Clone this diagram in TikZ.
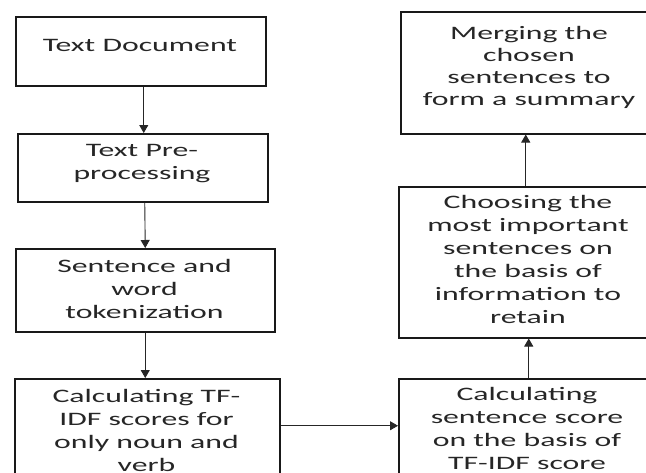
\documentclass[tikz,border=0pt]{standalone}
\usepackage{fontspec}
\setmainfont[FakeStretch=1.67]{Carlito}
\usetikzlibrary{arrows.meta}
\begin{document}
\begin{tikzpicture}[x=1pt,y=-1pt,
  box/.style={draw=black!90, line width=1.5pt, rectangle, inner sep=0pt, anchor=north west},
  txt/.style={anchor=north, inner sep=0pt, align=center, text=black!85, font=\fontsize{19}{23}\selectfont},
  arr/.style={draw=black!85, line width=0.9pt, -{Triangle[length=8pt,width=9pt]}}]
\useasboundingbox (0,0) rectangle (646,472);
\clip (0,0) rectangle (646,472);
% left column boxes
\node[box, minimum width=250pt, minimum height=69pt] (b1) at (15,16) {};
\node[box, minimum width=250pt, minimum height=68pt] (b2) at (17,133) {};
\node[box, minimum width=259pt, minimum height=83pt] (b3) at (15,248) {};
\node[box, minimum width=265pt, minimum height=120pt] (b4) at (14,378) {};
% right column boxes
\node[box, minimum width=258pt, minimum height=122pt] (r1) at (400,11) {};
\node[box, minimum width=260pt, minimum height=151pt] (r2) at (398,186) {};
\node[box, minimum width=260pt, minimum height=120pt] (r3) at (398,378) {};
% texts
\node[txt] (t1) at (140,37) {\rule{0pt}{14pt}Text Document};
\node[txt] (t2) at (142,142) {\rule{0pt}{14pt}Text Pre-\\processing};
\node[txt] (t3) at (144.5,258) {\rule{0pt}{14pt}Sentence and\\word\\tokenization};
\node[txt] (t4) at (146.5,388) {\rule{0pt}{14pt}Calculating TF-\\IDF scores for\\only noun and\\verb};
\node[txt, font=\fontsize{19}{22}\selectfont] (u1) at (529,25) {\rule{0pt}{14pt}Merging the\\chosen\\sentences to\\form a summary};
\node[txt] (u2) at (528,194) {\rule{0pt}{14pt}Choosing the\\most important\\sentences on\\the basis of\\information to\\retain};
\node[txt] (u3) at (527,386) {\rule{0pt}{14pt}Calculating\\sentence score\\on the basis of\\TF-IDF score};
% connectors
\draw[arr] ([xshift=3pt]b1.south) -- ([xshift=1pt]b2.north);
\draw[arr] ([xshift=2pt]b2.south) -- (b3.north);
\draw[arr] (b3.south) -- ([xshift=-2pt]b4.north);
\draw[arr] ([yshift=13pt]b4.east) -- ([yshift=13pt]r3.west);
\draw[arr] (r3.north) -- (r2.south);
\draw[arr] ([xshift=-3pt]r2.north) -- ([xshift=-4pt]r1.south);
\end{tikzpicture}
\end{document}
